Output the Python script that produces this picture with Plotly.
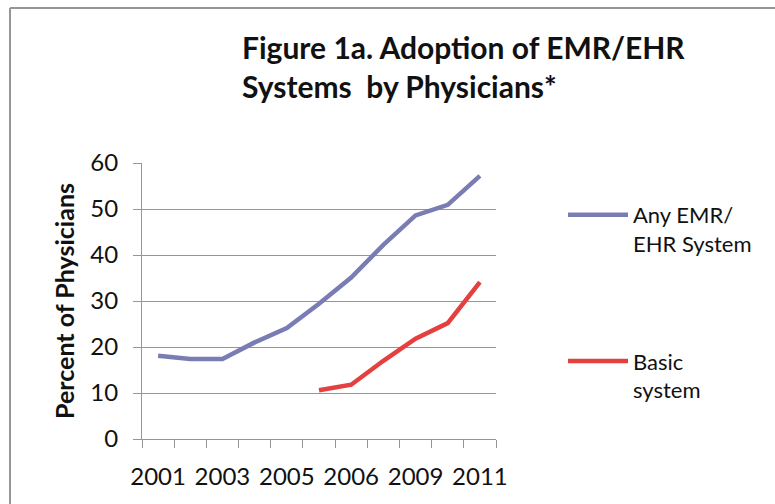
import plotly.graph_objects as go

# ---- data ----
years = [2001, 2002, 2003, 2004, 2005, 2006, 2007, 2008, 2009, 2010, 2011]
any_emr = [18.1, 17.4, 17.4, 21.0, 24.1, 29.4, 35.1, 42.2, 48.6, 50.9, 57.2]
basic_years = [2006, 2007, 2008, 2009, 2010, 2011]
basic = [10.6, 11.8, 17.0, 21.8, 25.2, 34.1]
tick_years = [2001, 2003, 2005, 2007, 2009, 2011]
tick_labels = ["2001", "2003", "2005", "2006", "2009", "2011"]
y_ticks = [0, 10, 20, 30, 40, 50, 60]

W, H = 775, 504
L, R, T, B = 142, 279, 163, 65
PW, PH = W - L - R, H - T - B

def px(x):
    return (x - L) / PW

def py(y):
    return (H - B - y) / PH

BLUE = "rgb(122,124,180)"
RED = "rgb(229,64,64)"
GRID = "rgb(150,150,150)"
FONT = "Lato"

fig = go.Figure()
fig.add_trace(go.Scatter(x=years, y=any_emr, mode="lines", name="Any EMR/<br>EHR System",
                         line=dict(color=BLUE, width=4.5), legendgroup="a"))
fig.add_trace(go.Scatter(x=basic_years, y=basic, mode="lines", name="Basic<br>system",
                         line=dict(color=RED, width=4.5), legendgroup="b"))

fig.update_layout(
    width=W, height=H,
    margin=dict(l=L, r=R, t=T, b=B, autoexpand=False),
    paper_bgcolor="white", plot_bgcolor="white",
    font=dict(family=FONT, color="#111111"),
    showlegend=True,
    legend=dict(x=px(563), xanchor="left", y=py(194), yanchor="top",
                font=dict(size=22, family=FONT, color="#111111"),
                tracegroupgap=86, valign="top", itemwidth=60,
                bgcolor="rgba(0,0,0,0)"),
    xaxis=dict(range=[2000.5, 2011.5], tickvals=tick_years, ticktext=tick_labels,
               ticks="", showgrid=False, zeroline=False,
               showline=True, linecolor=GRID, linewidth=1,
               ticklabelstandoff=16,
               tickfont=dict(size=24, family=FONT, color="#111111"),
               minor=dict(tick0=2000.5, dtick=1, ticks="outside", ticklen=8,
                          tickcolor=GRID, showgrid=False)),
    yaxis=dict(range=[0, 60], tickvals=y_ticks, ticks="outside", ticklen=8, tickcolor=GRID,
               showgrid=True, gridcolor=GRID, gridwidth=1, zeroline=False,
               showline=True, linecolor=GRID, linewidth=1,
               ticklabelstandoff=10,
               tickfont=dict(size=24, family=FONT, color="#111111"),
               title=dict(text="<b>Percent of Physicians</b>", standoff=8,
                          font=dict(size=25, family=FONT, color="#111111"))),
    annotations=[dict(text="<b>Figure 1a. Adoption of EMR/EHR<br>Systems  by Physicians*</b>",
                      xref="paper", yref="paper", x=px(240), y=py(27),
                      xanchor="left", yanchor="top", align="left", showarrow=False,
                      font=dict(size=30, family=FONT, color="#111111"))],
    shapes=[
        dict(type="line", xref="paper", yref="paper", x0=px(10), x1=px(W + 5), y0=py(8), y1=py(8),
             line=dict(color="rgb(150,150,150)", width=2)),
        dict(type="line", xref="paper", yref="paper", x0=px(10), x1=px(10), y0=py(8), y1=py(H + 5),
             line=dict(color="rgb(150,150,150)", width=2)),
    ],
)

fig.write_html("out.html", config={"displayModeBar": False},
               post_script="document.body.style.margin='0';")
